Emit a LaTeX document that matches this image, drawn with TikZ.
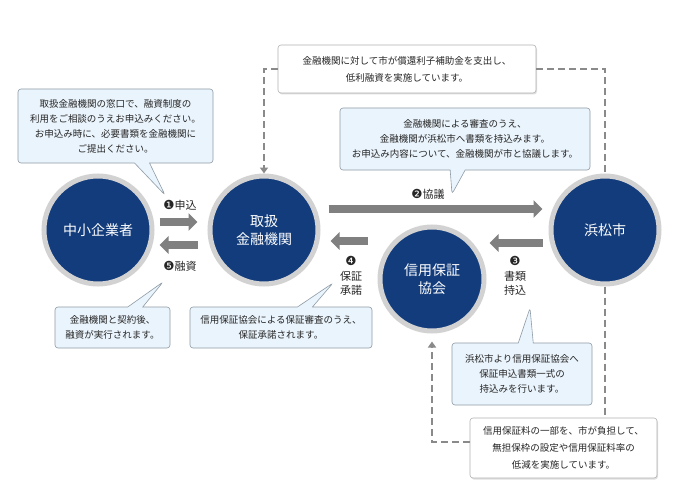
\documentclass[tikz,border=0pt]{standalone}
\usepackage{fontspec}
\setmainfont{Noto Sans CJK JP}
\newfontfamily\dingfont{DejaVu Sans}
\usepackage{xcolor}
\usetikzlibrary{arrows.meta,shapes.callouts,shadows}
\definecolor{navy}{HTML}{123C7C}
\definecolor{ringgray}{HTML}{D2D2D2}
\definecolor{flowgray}{HTML}{808080}
\definecolor{dashgray}{HTML}{8A8A8A}
\definecolor{noteblue}{HTML}{EAF4FC}
\definecolor{noteedge}{HTML}{8E9BA6}
\definecolor{textgray}{HTML}{262626}
\newcommand{\stepno}[1]{{\dingfont\fontsize{12.5}{14.5}\selectfont #1}}
\tikzset{
  party/.style={
    circle,
    fill=navy,
    draw=ringgray,
    line width=5pt,
    minimum size=108pt,
    text=white,
    align=center,
    inner sep=0pt,
    font=\fontsize{14}{18}\selectfont
  },
  note/.style={
    rectangle callout,
    draw=noteedge,
    fill=noteblue,
    rounded corners=3pt,
    line width=0.6pt,
    callout pointer width=15pt,
    align=center,
    inner sep=2pt,
    text=textgray,
    font=\fontsize{9.5}{15}\selectfont
  },
  memo/.style={
    rectangle,
    draw=black!30,
    fill=white,
    rounded corners=3pt,
    line width=0.6pt,
    drop shadow={opacity=0.25, shadow xshift=1pt, shadow yshift=-1.5pt},
    align=center,
    inner sep=2pt,
    text=textgray,
    font=\fontsize{9.5}{17}\selectfont
  },
  flow/.style={draw=flowgray, line width=8pt, -{Triangle[width=17pt,length=9pt]}},
  subsidy/.style={draw=dashgray, line width=2.5pt, dash pattern=on 7pt off 4pt},
  subsidytip/.style={-{Triangle[width=8pt,length=6pt]}},
  steplabel/.style={align=center, text=textgray, font=\fontsize{11}{14.5}\selectfont}
}

\begin{document}
\begin{tikzpicture}[x=1pt, y=-1pt]
  \fill[white] (0,0) rectangle (688,500);
  \useasboundingbox (0,0) rectangle (688,500);

  % the four parties
  \node[party] (sme) at (98,230) {中小企業者};
  \node[party] (bank) at (264,230) {取扱\\金融機関};
  \node[party] (city) at (605,230) {浜松市};
  \node[party, minimum size=104pt] (guar) at (432,279) {信用保証\\協会};

  % numbered steps
  \draw[flow] ([xshift=5pt,yshift=8pt]sme.east) -- ([xshift=-10pt,yshift=8pt]bank.west);
  \draw[flow] ([xshift=-10pt,yshift=-15pt]bank.west) -- ([xshift=5pt,yshift=-15pt]sme.east);
  \draw[flow] ([xshift=8pt,yshift=21pt]bank.east) -- ([xshift=-6pt,yshift=21pt]city.west);
  \draw[flow] ([xshift=-6pt,yshift=-13pt]city.west) -- ([xshift=3pt,yshift=36pt]guar.east);
  \draw[flow] ([xshift=-10pt,yshift=38pt]guar.west) -- ([xshift=10pt,yshift=-11pt]bank.east);

  \node[steplabel] (applylbl) at (180,205) {\stepno{❶}申込};
  \node[steplabel] (loanlbl) at (180,266) {\stepno{❺}融資};
  \node[steplabel] (consultlbl) at (428,194) {\stepno{❷}協議};
  \node[steplabel] (guaranteelbl) at (351,276) {\stepno{❹}\\保証\\承諾};
  \node[steplabel] (documentlbl) at (515,276) {\stepno{❸}\\書類\\持込};

  % explanations
  \node[note, minimum width=195pt, minimum height=74pt, callout absolute pointer={(165,195)}]
    (applynote) at (115.5,126) {取扱金融機関の窓口で、融資制度の\\利用をご相談のうえお申込みください。\\お申込み時に、必要書類を金融機関に\\ご提出ください。};
  \node[note, minimum width=250pt, minimum height=62pt, callout absolute pointer={(452,194)}]
    (consultnote) at (465,139) {金融機関による審査のうえ、\\金融機関が浜松市へ書類を持込みます。\\お申込み内容について、金融機関が市と協議します。};
  \node[note, minimum width=115pt, minimum height=41pt, callout absolute pointer={(163,282)}]
    (loannote) at (112.5,327.5) {金融機関と契約後、\\融資が実行されます。};
  \node[note, minimum width=182pt, minimum height=41pt, callout absolute pointer={(333,283)}]
    (guaranteenote) at (281,327.5) {信用保証協会による保証審査のうえ、\\保証承諾されます。};
  \node[note, minimum width=140pt, minimum height=62pt, callout absolute pointer={(530,308)}]
    (documentnote) at (522,374) {浜松市より信用保証協会へ\\保証申込書類一式の\\持込みを行います。};

  % city support
  \node[memo, minimum width=258pt, minimum height=48pt] (interestnote) at (407,69)
    {金融機関に対して市が償還利子補助金を支出し、\\低利融資を実施しています。};
  \node[memo, minimum width=187pt, minimum height=60pt] (feenote) at (563.5,448)
    {信用保証料の一部を、市が負担して、\\無担保枠の設定や信用保証料率の\\低減を実施しています。};

  \draw[subsidy, subsidytip] (interestnote.west) -| (bank.north);
  \draw[subsidy] (interestnote.east) -| (city.north);
  \draw[subsidy] (city.south) -- (city.south |- feenote.north);
  \draw[subsidy, subsidytip] ([yshift=6pt]feenote.west) -| ([yshift=-8pt]guar.south);
\end{tikzpicture}
\end{document}
